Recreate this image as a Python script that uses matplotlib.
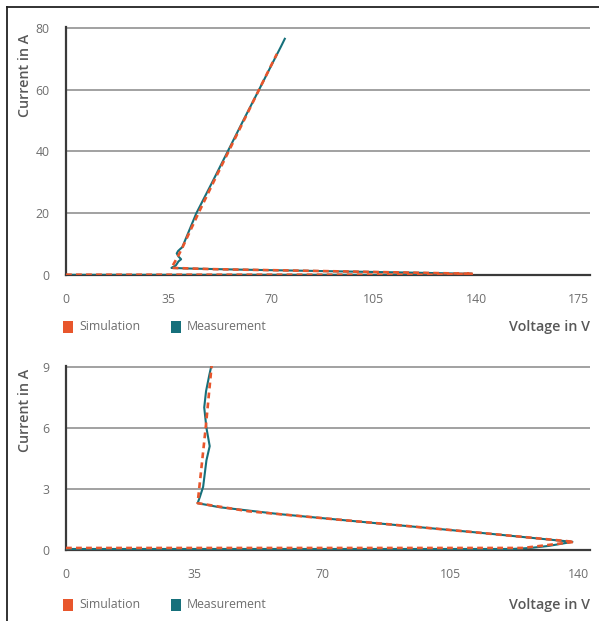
import matplotlib
matplotlib.use("Agg")
import matplotlib.pyplot as plt
from matplotlib.patches import Rectangle
from matplotlib.lines import Line2D

plt.rcParams['font.family'] = ['Open Sans', 'DejaVu Sans']

# Simulated I-V curve (voltage in V, current in A)
sim_v = [0, 60, 125, 139, 110, 80, 50, 36, 38.2, 39.8, 45.2, 50.3, 55.5, 60.7, 65.9, 72]
sim_i = [0.1, 0.1, 0.1, 0.4, 0.9, 1.4, 1.9, 2.3, 6, 9, 20, 30, 40, 50, 60, 71.6]

# Measured I-V curve
meas_v = [0, 60, 122, 127, 132, 138.5, 113, 85.8, 58.5, 42, 36, 36.6, 37.5, 38.4,
          39.3, 38.4, 37.8, 38.3, 39.2, 39.7, 44.5, 49.9, 55.2, 60.5, 65.9, 70.7, 73.4, 74.7]
meas_i = [0.05, 0.05, 0.05, 0.1, 0.2, 0.4, 0.85, 1.3, 1.76, 2.1, 2.3, 2.6, 3.1, 4.4,
          5.1, 6, 7, 7.8, 8.6, 9, 20, 30, 40, 50, 60, 69, 74, 76.5]

top_xticks = [0, 35, 70, 105, 140, 175]
top_yticks = [0, 20, 40, 60, 80]
bot_xticks = [0, 35, 70, 105, 140]
bot_yticks = [0, 3, 6, 9]

SIM_COLOR = '#E8562C'
MEAS_COLOR = '#16707B'
TICK_COLOR = '#6E6E6E'
TITLE_COLOR = '#585858'

W, H = 599, 621
fig = plt.figure(figsize=(W / 100, H / 100), dpi=100)


def px(x, y):
    # pixel position (from top-left) to figure fraction
    return x / W, 1 - y / H


def make_panel(rect, xticks, yticks, xmax):
    ax = fig.add_axes(rect)
    ax.plot(meas_v, meas_i, color=MEAS_COLOR, lw=1.5, zorder=3)
    ax.plot(sim_v, sim_i, color=SIM_COLOR, lw=1.9, ls=(0, (2.2, 1.6)), zorder=4)
    ax.set_xlim(0, xmax)
    ax.set_ylim(0, yticks[-1] * 1.004)
    ax.set_xticks(xticks)
    ax.set_yticks(yticks)
    ax.tick_params(length=0, labelsize=8.8, labelcolor=TICK_COLOR)
    ax.tick_params(axis='x', pad=13)
    ax.tick_params(axis='y', pad=12)
    ax.grid(axis='y', color='#9A9A9A', lw=1.3, zorder=1)
    for s in ['top', 'right']:
        ax.spines[s].set_visible(False)
    for s in ['left', 'bottom']:
        ax.spines[s].set_color('#3A3A3A')
        ax.spines[s].set_linewidth(1.6)
        ax.spines[s].set_zorder(2)
    return ax


# upper panel: full current range
x0, y0 = px(66, 275)
x1, y1 = px(590, 27)
make_panel([x0, y0, x1 - x0, y1 - y0], top_xticks, top_yticks, 178.9)

# lower panel: zoom into the low current region
x0, y0 = px(66, 550)
x1, y1 = px(590, 366)
make_panel([x0, y0, x1 - x0, y1 - y0], bot_xticks, bot_yticks, 143.3)


def legend_row(yc):
    for xs, color, label in [(63, SIM_COLOR, 'Simulation'), (171, MEAS_COLOR, 'Measurement')]:
        fx, fy = px(xs, yc + 6)
        fig.patches.append(Rectangle((fx, fy), 10 / W, 12 / H, transform=fig.transFigure,
                                     facecolor=color, edgecolor='none'))
        tx, ty = px(xs + 16, yc)
        fig.text(tx, ty, label, ha='left', va='center', fontsize=8.8, color=TICK_COLOR)
    tx, ty = px(590, yc)
    fig.text(tx, ty, 'Voltage in V', ha='right', va='center', fontsize=10.3,
             color=TITLE_COLOR, fontweight='semibold')


legend_row(327)
legend_row(605)

# y axis titles
for yc in (75, 410):
    tx, ty = px(25, yc)
    fig.text(tx, ty, 'Current in A', rotation=90, ha='center', va='center',
             fontsize=10.3, color=TITLE_COLOR, fontweight='semibold')

# frame along the top and left edge
fig.lines.append(Line2D([7 / W, 1], [1 - 7 / H, 1 - 7 / H], transform=fig.transFigure,
                        color='#222222', lw=1.3))
fig.lines.append(Line2D([7 / W, 7 / W], [0, 1 - 7 / H], transform=fig.transFigure,
                        color='#222222', lw=1.3))

fig.savefig('out.png', dpi=100, facecolor='white')
